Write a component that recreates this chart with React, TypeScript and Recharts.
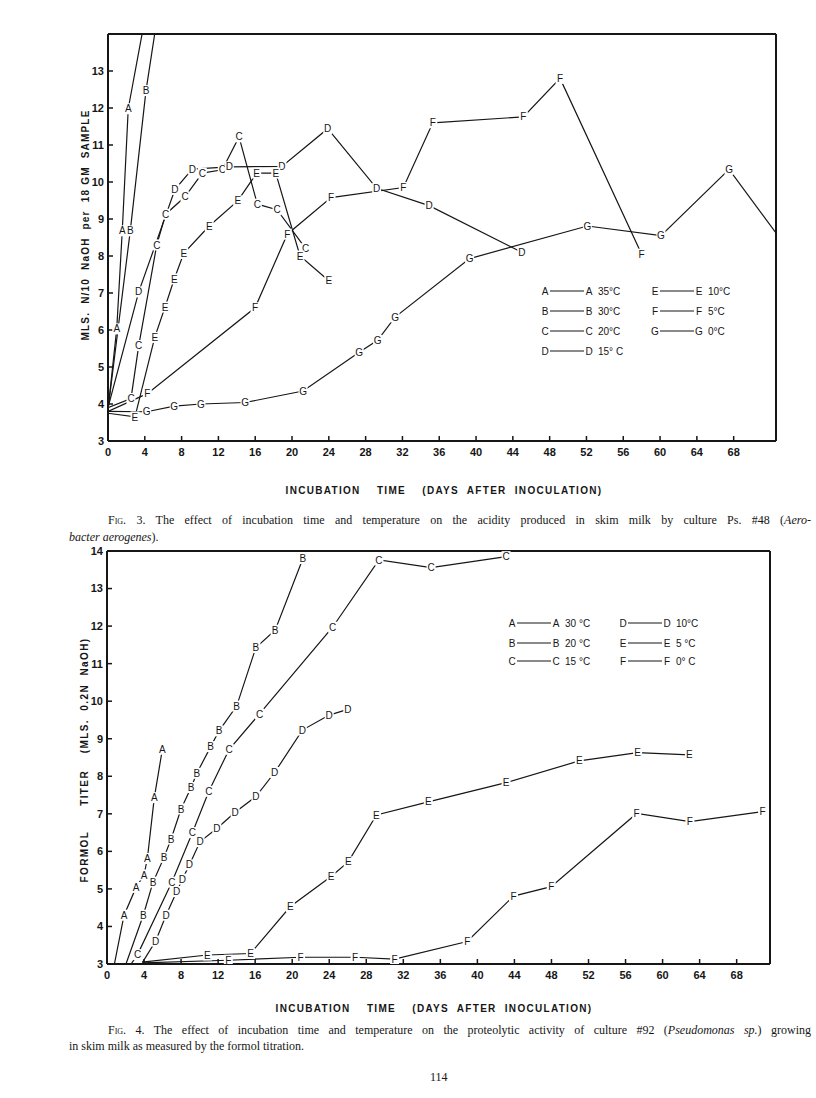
import React from 'react';
import { LineChart, Line, XAxis, YAxis, ReferenceLine } from 'recharts';

// ---------- Fig. 3 (acidity) ----------
const fig3DayTicks = [0, 4, 8, 12, 16, 20, 24, 28, 32, 36, 40, 44, 48, 52, 56, 60, 64, 68];
const fig3ValueTicks = [3, 4, 5, 6, 7, 8, 9, 10, 11, 12, 13];
const fig3DayMax = 72.6;
const fig3ValueMax = 14;

const fig3ADays = [0, 0.95, 1.55, 2.2, 4.0];
const fig3AValues = [3.85, 6.03, 8.68, 11.98, 14.4];
const fig3BDays = [0, 2.42, 4.13, 6.0];
const fig3BValues = [3.85, 8.68, 12.47, 15.5];
const fig3CDays = [0, 2.5, 3.34, 5.3, 6.27, 8.37, 10.25, 12.42, 14.24, 16.23, 18.37, 21.49];
const fig3CValues = [3.9, 4.15, 5.58, 8.3, 9.13, 9.6, 10.24, 10.33, 11.22, 9.4, 9.25, 8.2];
const fig3DDays = [0, 3.34, 7.28, 9.16, 13.18, 18.9, 23.88, 29.2, 34.9, 44.97];
const fig3DValues = [3.9, 7.03, 9.8, 10.35, 10.41, 10.42, 11.44, 9.83, 9.36, 8.1];
const fig3EDays = [0, 2.93, 5.08, 6.2, 7.2, 8.23, 11.0, 14.1, 16.16, 18.23, 20.87, 24.0];
const fig3EValues = [3.75, 3.65, 5.8, 6.62, 7.38, 8.07, 8.81, 9.49, 10.24, 10.24, 8.0, 7.33];
const fig3FDays = [0, 4.27, 15.98, 19.49, 24.24, 32.1, 35.3, 45.14, 49.13, 58.0];
const fig3FValues = [3.8, 4.28, 6.6, 8.59, 9.58, 9.85, 11.6, 11.76, 12.8, 8.05];
const fig3GDays = [0, 4.2, 7.2, 10.1, 14.9, 21.2, 27.3, 29.3, 31.2, 39.3, 52.1, 60.1, 67.5, 73.5];
const fig3GValues = [3.8, 3.79, 3.94, 4.0, 4.04, 4.35, 5.4, 5.72, 6.35, 7.93, 8.81, 8.55, 10.34, 8.32];

const fig3Letters = ['A', 'B', 'C', 'D', 'E', 'F', 'G'];
const fig3Temps = ['35°C', '30°C', '20°C', '15° C', '10°C', '5°C', '0°C'];

// ---------- Fig. 4 (formol titer) ----------
const fig4DayTicks = [0, 4, 8, 12, 16, 20, 24, 28, 32, 36, 40, 44, 48, 52, 56, 60, 64, 68];
const fig4ValueTicks = [3, 4, 5, 6, 7, 8, 9, 10, 11, 12, 13, 14];
const fig4DayMax = 71.6;
const fig4ValueMax = 14;

const fig4ADays = [0.8, 1.84, 3.14, 4.0, 4.36, 5.11, 5.98];
const fig4AValues = [3.0, 4.3, 5.04, 5.37, 5.81, 7.43, 8.72];
const fig4BDays = [2.05, 3.92, 4.97, 6.16, 6.92, 8.0, 9.08, 9.7, 11.2, 12.1, 14.0, 16.08, 18.16, 21.16];
const fig4BValues = [3.0, 4.3, 5.18, 5.84, 6.33, 7.13, 7.7, 8.08, 8.79, 9.21, 9.87, 11.43, 11.89, 13.8];
const fig4CDays = [2.6, 3.3, 7.0, 9.23, 11.0, 13.2, 16.47, 24.36, 29.37, 35.0, 43.1];
const fig4CValues = [3.0, 3.25, 5.18, 6.5, 7.6, 8.72, 9.66, 11.97, 13.76, 13.56, 13.85];
const fig4DDays = [3.85, 5.26, 6.38, 7.53, 8.14, 8.9, 10.05, 11.86, 13.84, 16.08, 18.1, 21.1, 24.0, 26.0];
const fig4DValues = [3.05, 3.61, 4.3, 4.93, 5.26, 5.64, 6.26, 6.61, 7.04, 7.46, 8.1, 9.23, 9.63, 9.78];
const fig4EDays = [3.8, 10.84, 15.5, 19.8, 24.2, 26.05, 29.1, 34.7, 43.1, 51.0, 57.3, 62.9];
const fig4EValues = [3.05, 3.24, 3.28, 4.53, 5.33, 5.72, 6.97, 7.32, 7.83, 8.41, 8.63, 8.57];
const fig4FDays = [3.8, 13.1, 20.9, 26.8, 31.06, 38.9, 43.9, 47.97, 57.2, 62.95, 70.8];
const fig4FValues = [3.03, 3.1, 3.18, 3.18, 3.13, 3.6, 4.81, 5.06, 7.01, 6.79, 7.06];

const fig4Letters = ['A', 'B', 'C', 'D', 'E', 'F'];
const fig4Temps = ['30 °C', '20 °C', '15 °C', '10°C', '5 °C', '0° C'];

// ---------- helpers ----------
const toPoints = (days: number[], values: number[]) => days.map((x, i) => ({ x, y: values[i] }));

const fig3Series = [
  toPoints(fig3ADays, fig3AValues),
  toPoints(fig3BDays, fig3BValues),
  toPoints(fig3CDays, fig3CValues),
  toPoints(fig3DDays, fig3DValues),
  toPoints(fig3EDays, fig3EValues),
  toPoints(fig3FDays, fig3FValues),
  toPoints(fig3GDays, fig3GValues),
];
const fig4Series = [
  toPoints(fig4ADays, fig4AValues),
  toPoints(fig4BDays, fig4BValues),
  toPoints(fig4CDays, fig4CValues),
  toPoints(fig4DDays, fig4DValues),
  toPoints(fig4EDays, fig4EValues),
  toPoints(fig4FDays, fig4FValues),
];

const INK = '#161616';
const SANS = '"Liberation Sans", Arial, sans-serif';
const SERIF = '"Liberation Serif", "DejaVu Serif", serif';

const letterDot = (letter: string, xMax: number, yMax: number) => (props: any) => {
  const { cx, cy, index, payload } = props;
  const key = `dot-${letter}-${index}`;
  if (index === 0 || cx == null || cy == null || payload.x > xMax || payload.y > yMax) {
    return <g key={key} />;
  }
  return (
    <g key={key}>
      <rect x={cx - 4.5} y={cy - 5.5} width={9} height={11} fill="#fff" />
      <text
        x={cx}
        y={cy + 3.6}
        textAnchor="middle"
        fontSize={10}
        fontFamily={SANS}
        fill={INK}
      >
        {letter}
      </text>
    </g>
  );
};

const tickStyle = { fontSize: 11, fontWeight: 700, fill: INK, fontFamily: SANS };

type PanelProps = {
  series: { x: number; y: number }[][];
  letters: string[];
  dayTicks: number[];
  valueTicks: number[];
  dayMax: number;
  valueMax: number;
  margin: { top: number; right: number; bottom: number; left: number };
  height: number;
};

function Panel({ series, letters, dayTicks, valueTicks, dayMax, valueMax, margin, height }: PanelProps) {
  return (
    <LineChart width={816} height={height} margin={margin}>
      <XAxis
        type="number"
        dataKey="x"
        domain={[0, dayMax]}
        allowDataOverflow
        ticks={dayTicks}
        interval={0}
        height={30}
        stroke={INK}
        axisLine={{ stroke: INK, strokeWidth: 2 }}
        tickLine={{ stroke: INK, strokeWidth: 1.5 }}
        tickSize={-5}
        tickMargin={12}
        tick={tickStyle}
      />
      <YAxis
        type="number"
        dataKey="y"
        domain={[3, valueMax]}
        allowDataOverflow
        ticks={valueTicks}
        interval={0}
        width={40}
        stroke={INK}
        axisLine={{ stroke: INK, strokeWidth: 2 }}
        tickLine={{ stroke: INK, strokeWidth: 1.5 }}
        tickSize={-5}
        tickMargin={9}
        tick={tickStyle}
      />
      <ReferenceLine y={valueMax} stroke={INK} strokeWidth={2} />
      <ReferenceLine x={dayMax} stroke={INK} strokeWidth={2} />
      {series.map((data, i) => (
        <Line
          key={letters[i]}
          data={data}
          dataKey="y"
          type="linear"
          stroke={INK}
          strokeWidth={1.2}
          dot={letterDot(letters[i], dayMax, valueMax)}
          activeDot={false}
          isAnimationActive={false}
        />
      ))}
    </LineChart>
  );
}

function LegendRow({ x, y, letter, temp }: { x: number; y: number; letter: string; temp: string }) {
  return (
    <g fontFamily={SANS} fontSize={10} fill={INK}>
      <text x={x} y={y + 3.6} textAnchor="middle">{letter}</text>
      <line x1={x + 5} y1={y} x2={x + 39} y2={y} stroke={INK} strokeWidth={1.2} />
      <text x={x + 44} y={y + 3.6} textAnchor="middle">{letter}</text>
      <text x={x + 53} y={y + 3.6} style={{ whiteSpace: 'pre' }}>{temp}</text>
    </g>
  );
}

const fig3LegendRows = [291, 311, 331, 351, 291, 311, 331];
const fig4LegendRows = [623, 643, 661, 623, 643, 661];

export default function App() {
  return (
    <div style={{ position: 'absolute', left: 0, top: 0, width: 816, height: 1098, background: '#fff', overflow: 'hidden' }}>
      <div style={{ position: 'absolute', left: 0, top: 0 }}>
        <Panel
          series={fig3Series}
          letters={fig3Letters}
          dayTicks={fig3DayTicks}
          valueTicks={fig3ValueTicks}
          dayMax={fig3DayMax}
          valueMax={fig3ValueMax}
          height={480}
          margin={{ top: 34, right: 40, bottom: 9, left: 68 }}
        />
      </div>
      <div style={{ position: 'absolute', left: 0, top: 520 }}>
        <Panel
          series={fig4Series}
          letters={fig4Letters}
          dayTicks={fig4DayTicks}
          valueTicks={fig4ValueTicks}
          dayMax={fig4DayMax}
          valueMax={fig4ValueMax}
          height={480}
          margin={{ top: 31, right: 46, bottom: 6, left: 67 }}
        />
      </div>

      <svg width={816} height={1098} style={{ position: 'absolute', left: 0, top: 0, pointerEvents: 'none' }}>
        {fig3Letters.map((l, i) => (
          <LegendRow key={`l3${l}`} x={i < 4 ? 545 : 655} y={fig3LegendRows[i]} letter={l} temp={fig3Temps[i]} />
        ))}
        {fig4Letters.map((l, i) => (
          <LegendRow key={`l4${l}`} x={i < 3 ? 512 : 623} y={fig4LegendRows[i]} letter={l} temp={fig4Temps[i]} />
        ))}
        <text
          x={0}
          y={0}
          transform="translate(89 225) rotate(-90)"
          textAnchor="middle"
          fontFamily={SANS}
          fontWeight={700}
          fontSize={10}
          letterSpacing={1.2}
          fill={INK}
          style={{ whiteSpace: 'pre' }}
        >
          {'MLS.  N/10  NaOH  per  18 GM  SAMPLE'}
        </text>
        <text
          x={0}
          y={0}
          transform="translate(88 760) rotate(-90)"
          textAnchor="middle"
          fontFamily={SANS}
          fontWeight={700}
          fontSize={10}
          letterSpacing={1.4}
          fill={INK}
          style={{ whiteSpace: 'pre' }}
        >
          {'FORMOL      TITER    (MLS.  0.2N  NaOH)'}
        </text>
        <text x={444} y={494} textAnchor="middle" fontFamily={SANS} fontWeight={700} fontSize={10} letterSpacing={1.3} fill={INK} style={{ whiteSpace: 'pre' }}>
          {'INCUBATION    TIME    (DAYS  AFTER  INOCULATION)'}
        </text>
        <text x={434} y={1012} textAnchor="middle" fontFamily={SANS} fontWeight={700} fontSize={10} letterSpacing={1.3} fill={INK} style={{ whiteSpace: 'pre' }}>
          {'INCUBATION    TIME    (DAYS  AFTER  INOCULATION)'}
        </text>
      </svg>

      <div style={{ position: 'absolute', left: 108, top: 512, width: 703, fontFamily: SERIF, fontSize: 12, lineHeight: '16px', color: INK, textAlign: 'justify', textAlignLast: 'justify', whiteSpace: 'nowrap' as any }}>
        <span style={{ fontVariant: 'small-caps' }}>Fig.</span> 3. The effect of incubation time and temperature on the acidity produced in skim milk by culture Ps. #48 (<i>Aero-</i>
      </div>
      <div style={{ position: 'absolute', left: 69, top: 529, fontFamily: SERIF, fontSize: 12, lineHeight: '16px', color: INK }}>
        <i>bacter aerogenes</i>).
      </div>

      <div style={{ position: 'absolute', left: 108, top: 1022, width: 703, fontFamily: SERIF, fontSize: 12, lineHeight: '16px', color: INK, textAlign: 'justify', textAlignLast: 'justify' }}>
        <span style={{ fontVariant: 'small-caps' }}>Fig.</span> 4. The effect of incubation time and temperature on the proteolytic activity of culture #92 (<i>Pseudomonas sp.</i>) growing
      </div>
      <div style={{ position: 'absolute', left: 69, top: 1038, fontFamily: SERIF, fontSize: 12, lineHeight: '16px', color: INK }}>
        in skim milk as measured by the formol titration.
      </div>
      <div style={{ position: 'absolute', left: 430, top: 1069, fontFamily: SERIF, fontSize: 12, lineHeight: '16px', color: INK }}>
        114
      </div>
    </div>
  );
}
